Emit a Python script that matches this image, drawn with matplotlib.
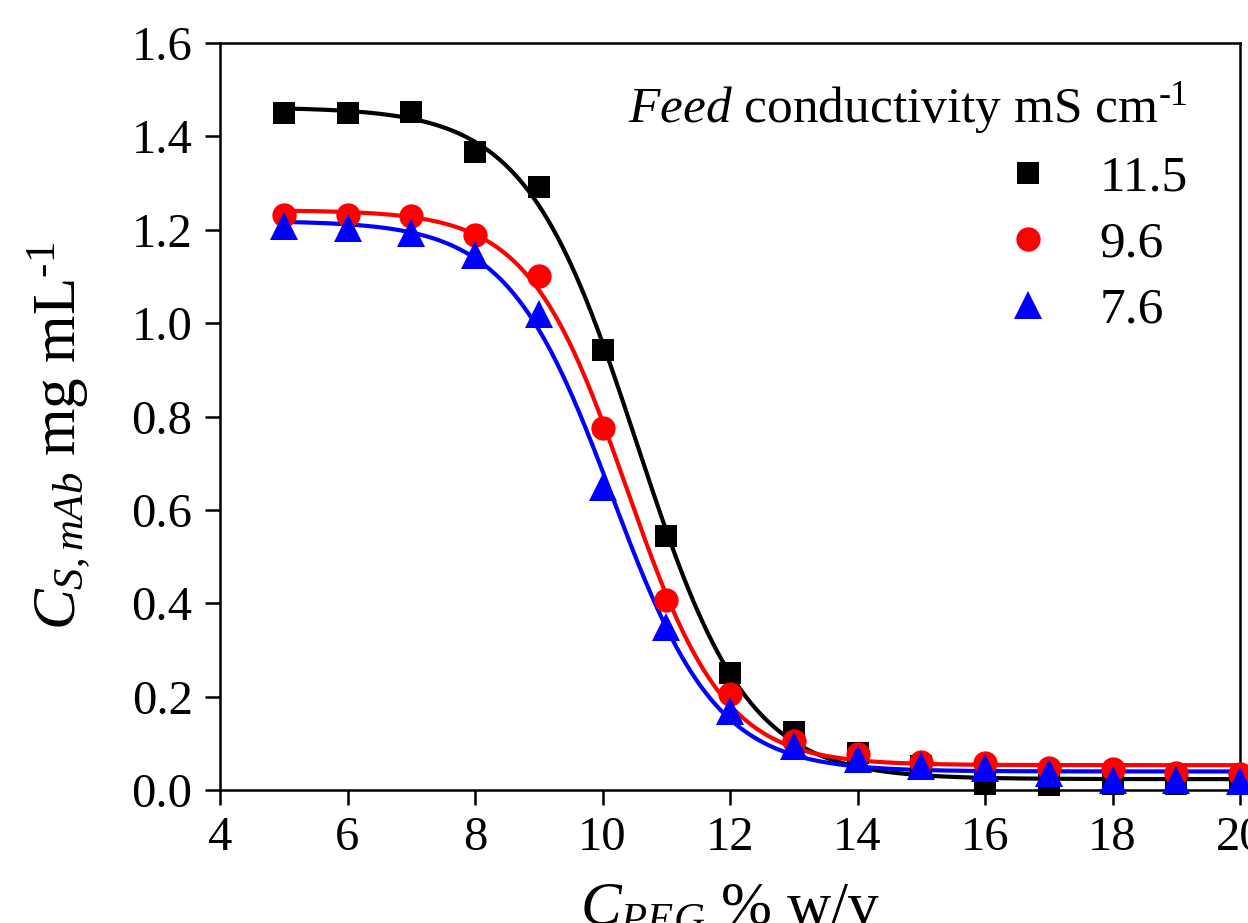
import matplotlib
matplotlib.use("Agg")
import matplotlib.pyplot as plt
from matplotlib.lines import Line2D
import numpy as np

plt.rcParams['font.family'] = 'Liberation Serif'
plt.rcParams['mathtext.fontset'] = 'custom'
plt.rcParams['mathtext.rm'] = 'Liberation Serif'
plt.rcParams['mathtext.it'] = 'Liberation Serif:italic'
plt.rcParams['mathtext.bf'] = 'Liberation Serif:bold'

# DATA : PEG concentration (% w/v) vs supernatant mAb (mg/mL), three feed conductivities
peg = np.array([5, 6, 7, 8, 9, 10, 11, 12, 13, 14, 15, 16, 17, 18, 19, 20])

cond_labels = ["11.5", "9.6", "7.6"]

mab_115 = np.array([1.450, 1.450, 1.452, 1.366, 1.292, 0.942, 0.545, 0.251,
                    0.124, 0.079, 0.052, 0.012, 0.010, 0.012, 0.012, 0.012])
mab_96 = np.array([1.231, 1.231, 1.230, 1.188, 1.100, 0.775, 0.408, 0.206,
                   0.105, 0.078, 0.061, 0.058, 0.047, 0.046, 0.036, 0.035])
mab_76 = np.array([1.208, 1.204, 1.193, 1.146, 1.020, 0.648, 0.350, 0.170,
                   0.095, 0.066, 0.052, 0.047, 0.036, 0.022, 0.022, 0.020])


def boltzmann_fit(x, y):
    # least squares Boltzmann fit: grid on (x0, dx), A1/A2 solved linearly
    x0 = np.linspace(8.0, 13.0, 401)[:, None, None]
    dx = np.linspace(0.15, 2.5, 236)[None, :, None]
    s = 1.0 / (1.0 + np.exp((x[None, None, :] - x0) / dx))
    t = 1.0 - s
    a, b, c = (s * s).sum(-1), (s * t).sum(-1), (t * t).sum(-1)
    d1, d2 = (s * y).sum(-1), (t * y).sum(-1)
    det = a * c - b * b
    A1 = (c * d1 - b * d2) / det
    A2 = (a * d2 - b * d1) / det
    err = ((A1[..., None] * s + A2[..., None] * t - y) ** 2).sum(-1)
    i, j = np.unravel_index(np.argmin(err), err.shape)
    return A1[i, j], A2[i, j], x0[i, 0, 0], dx[0, j, 0]


fig = plt.figure(figsize=(12.48, 9.23), dpi=100)
ax = fig.add_axes([220 / 1248, 133 / 923, 1020 / 1248, 747 / 923])

series = [
    (mab_115, 'black', 's', 16),
    (mab_96, 'red', 'o', 17.5),
    (mab_76, 'blue', '^', 20),
]

xs = np.linspace(5, 20, 400)
for y, col, mk, ms in series:
    A1, A2, x0, dx = boltzmann_fit(peg.astype(float), y)
    ax.plot(xs, A2 + (A1 - A2) / (1 + np.exp((xs - x0) / dx)), color=col, lw=3.0, zorder=2)

for k, (y, col, mk, ms) in enumerate(series):
    ax.plot(peg, y, linestyle='none', marker=mk, color=col, markersize=ms,
            markeredgewidth=0, zorder=3 + k, clip_on=False)

ax.set_xlim(4, 20)
ax.set_ylim(0, 1.6)
ax.set_xticks(np.arange(4, 21, 2))
ax.set_yticks(np.arange(0, 1.61, 0.2))
ax.yaxis.set_major_formatter(matplotlib.ticker.FormatStrFormatter('%.1f'))

for sp in ax.spines.values():
    sp.set_linewidth(1.8)
ax.tick_params(direction='out', length=10.8, width=1.8, labelsize=35, pad=8)
ax.tick_params(axis='y', pad=9)

ax.set_ylabel(r"$C_{S,mAb}$ mg mL$^{\text{-1}}$", fontsize=44)
ax.yaxis.set_label_coords(-0.125, 0.474)
ax.set_xlabel(r"$C_{PEG}$ % w/v", fontsize=44, labelpad=15)

handles = [Line2D([], [], linestyle='none', marker=mk, color=col, markersize=ms,
                  markeredgewidth=0) for _, col, mk, ms in series]
leg = ax.legend(handles, cond_labels, title=r"$\it{Feed}$ conductivity mS cm$^{\text{-1}}$",
                loc='upper right', bbox_to_anchor=((1188 - 220) / 1020, (790 - 80) / 747),
                frameon=False, fontsize=37, title_fontsize=37, alignment='right',
                handlelength=1.0, handletextpad=0.9, labelspacing=0.37,
                borderpad=0, borderaxespad=0)

fig.savefig("out.png", dpi=100)
plt.close(fig)
